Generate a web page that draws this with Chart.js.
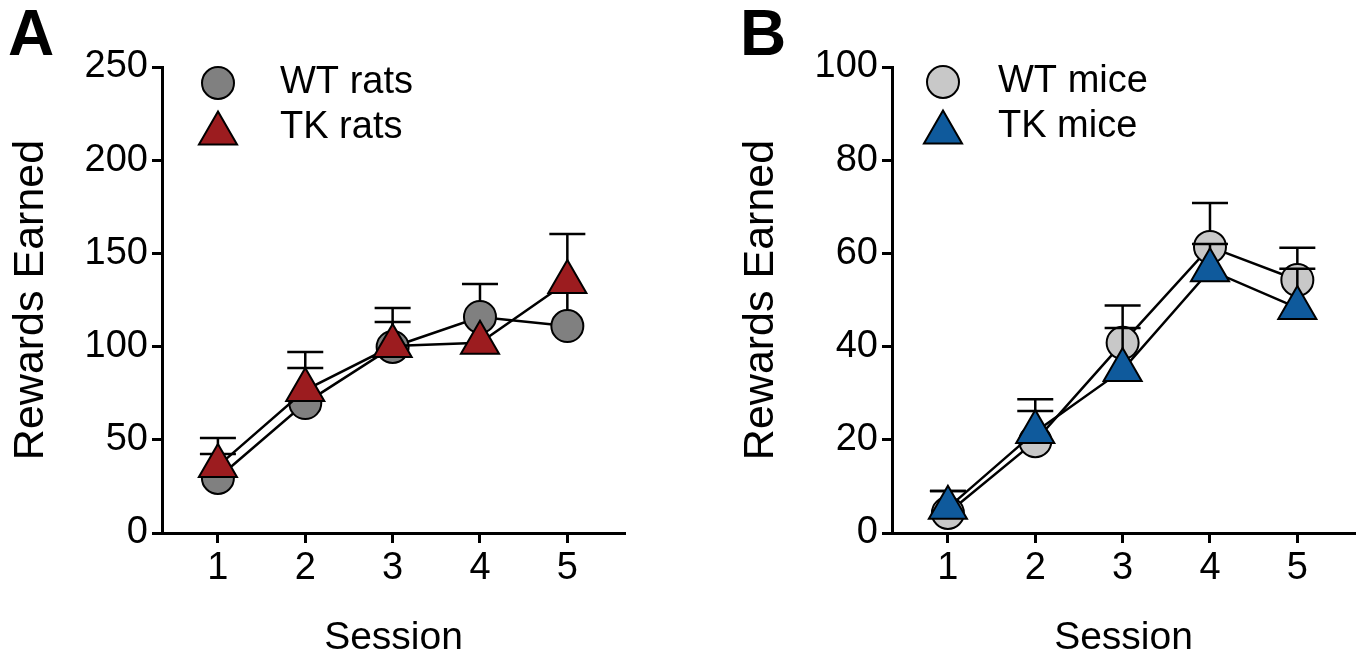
<!DOCTYPE html>
<html>
<head>
<meta charset="utf-8">
<script src="https://cdn.jsdelivr.net/npm/chart.js@4.4.1/dist/chart.umd.min.js"></script>
<style>
    body { margin: 0; background: #fff; }
    .panel { position: absolute; top: 0; width: 630px; height: 662px; }
    .letter { position: absolute; top: 1px; font: bold 64px "Liberation Sans", Arial, sans-serif; line-height: 1; color: #000; }
</style>
</head>
<body>
<div class="letter" style="left: 8px;">A</div>
<div class="letter" style="left: 740px;">B</div>
<div class="panel" style="left: 0px;"><canvas id="grafico1"></canvas></div>
<div class="panel" style="left: 730px;"><canvas id="grafico2"></canvas></div>
<script>
const sessoes = [1, 2, 3, 4, 5];

// painel A - ratos
const wt_rats = [29.5, 69.7, 99.8, 115.9, 111];
const wt_rats_sem = [12.9, 18.8, 13.4, 17.7, 18];
const tk_rats = [35.9, 76.7, 100.3, 102, 134.7];
const tk_rats_sem = [15, 20.4, 20.4, 0, 25.7];

// painel B - camundongos
const wt_mice = [4.3, 19.7, 40.8, 61.4, 54.3];
const wt_mice_sem = [4.7, 6.5, 8, 9.4, 6.9];
const tk_mice = [5.4, 21.7, 35, 56.4, 48.3];
const tk_mice_sem = [3.6, 7, 9, 5.6, 8.4];

const fonte = "'Liberation Sans', Arial, Helvetica, sans-serif";

// desenha as barras de erro (so para cima) antes de cada dataset
const errorBars = {
    id: 'errorBars',
    beforeDatasetDraw(chart, args) {
        const ds = chart.data.datasets[args.index];
        if (!ds.sem) return;
        const ctx = chart.ctx;
        const y = chart.scales.y;
        ctx.save();
        ctx.strokeStyle = '#000';
        ctx.lineWidth = 2.5;
        args.meta.data.forEach((pt, i) => {
            if (!ds.sem[i]) return;
            const topo = y.getPixelForValue(ds.data[i].y + ds.sem[i]);
            ctx.beginPath();
            ctx.moveTo(pt.x, pt.y);
            ctx.lineTo(pt.x, topo);
            ctx.moveTo(pt.x - 18, topo);
            ctx.lineTo(pt.x + 18, topo);
            ctx.stroke();
        });
        ctx.restore();
    }
};

function marcador(ctx, estilo, x, y, r) {
    ctx.beginPath();
    if (estilo === 'triangle') {
        let rad = 0;
        ctx.moveTo(x + Math.sin(rad) * r, y - Math.cos(rad) * r);
        rad += Math.PI * 2 / 3;
        ctx.lineTo(x + Math.sin(rad) * r, y - Math.cos(rad) * r);
        rad += Math.PI * 2 / 3;
        ctx.lineTo(x + Math.sin(rad) * r, y - Math.cos(rad) * r);
        ctx.closePath();
    } else {
        ctx.arc(x, y, r, 0, Math.PI * 2);
    }
    ctx.fill();
    ctx.stroke();
}

// legenda dentro do grafico, com o tamanho real de cada marcador
const legendaMarcadores = {
    id: 'legendaMarcadores',
    afterDatasetsDraw(chart, args, opts) {
        const ctx = chart.ctx;
        const area = chart.chartArea;
        ctx.save();
        chart.data.datasets.forEach((ds, i) => {
            const y = area.top + opts.top + i * opts.gap;
            const r = ds.pointRadius;
            ctx.fillStyle = ds.pointBackgroundColor;
            ctx.strokeStyle = '#000';
            ctx.lineWidth = ds.pointBorderWidth;
            marcador(ctx, ds.pointStyle, area.left + opts.markerX, ds.pointStyle === 'triangle' ? y + r / 4 : y, r);
            ctx.fillStyle = '#000';
            ctx.font = '38px ' + fonte;
            ctx.textBaseline = 'middle';
            ctx.textAlign = 'left';
            ctx.fillText(ds.label, area.left + opts.textX, y);
        });
        ctx.restore();
    }
};

function pontos(valores) {
    return sessoes.map((s, i) => ({ x: s, y: valores[i] }));
}

function serie(label, valores, sem, cor, estilo, raio, ordem) {
    return {
        label: label,
        data: pontos(valores),
        sem: sem,
        borderColor: '#000',
        borderWidth: 2.5,
        backgroundColor: cor,
        pointBackgroundColor: cor,
        pointBorderColor: '#000',
        pointBorderWidth: 2,
        pointStyle: estilo,
        pointRadius: raio,
        pointHoverRadius: raio,
        tension: 0,
        clip: false,
        order: ordem
    };
}

function config(datasets, ymax, ystep, legenda) {
    return {
        type: 'line',
        data: { datasets: datasets },
        plugins: [errorBars, legendaMarcadores],
        options: {
            responsive: true,
            maintainAspectRatio: false,
            animation: false,
            layout: { autoPadding: false, padding: { top: 67, right: 5, bottom: 0, left: 0 } },
            scales: {
                x: {
                    type: 'linear',
                    min: 0.36,
                    max: 5.66,
                    afterBuildTicks: (scale) => { scale.ticks = sessoes.map(v => ({ value: v })); },
                    afterFit: (scale) => { scale.height = 129; scale.paddingLeft = 0; scale.paddingRight = 0; },
                    border: { display: true, color: '#000', width: 3 },
                    grid: { drawOnChartArea: false, drawTicks: true, tickLength: 10, tickWidth: 3, tickColor: '#000' },
                    ticks: { color: '#000', padding: 3, font: { size: 38, family: fonte } },
                    title: { display: true, text: 'Session', color: '#000', padding: { top: 0, bottom: 0 }, font: { size: 39, family: fonte } }
                },
                y: {
                    min: 0,
                    max: ymax,
                    afterFit: (scale) => { scale.width = 162; scale.paddingTop = 0; scale.paddingBottom = 0; },
                    border: { display: true, color: '#000', width: 3 },
                    grid: { drawOnChartArea: false, drawTicks: true, tickLength: 10, tickWidth: 3, tickColor: '#000' },
                    ticks: { stepSize: ystep, color: '#000', padding: 4, font: { size: 38, family: fonte } },
                    title: { display: true, text: 'Rewards Earned', color: '#000', padding: { top: 5, bottom: 0 }, font: { size: 43, family: fonte } }
                }
            },
            plugins: {
                legend: { display: false },
                tooltip: { enabled: false },
                legendaMarcadores: legenda
            }
        }
    };
}

const grafico_ratos = new Chart(document.getElementById('grafico1'), config([
    serie('WT rats', wt_rats, wt_rats_sem, '#808080', 'circle', 16, 1),
    serie('TK rats', tk_rats, tk_rats_sem, '#9C1C1F', 'triangle', 22, 0)
], 250, 50, { markerX: 56, textX: 118, top: 16, gap: 45 }));

const grafico_camundongos = new Chart(document.getElementById('grafico2'), config([
    serie('WT mice', wt_mice, wt_mice_sem, '#C8C8C8', 'circle', 16, 1),
    serie('TK mice', tk_mice, tk_mice_sem, '#0F5A9C', 'triangle', 22, 0)
], 100, 20, { markerX: 51, textX: 106, top: 15, gap: 45 }));
</script>
</body>
</html>
